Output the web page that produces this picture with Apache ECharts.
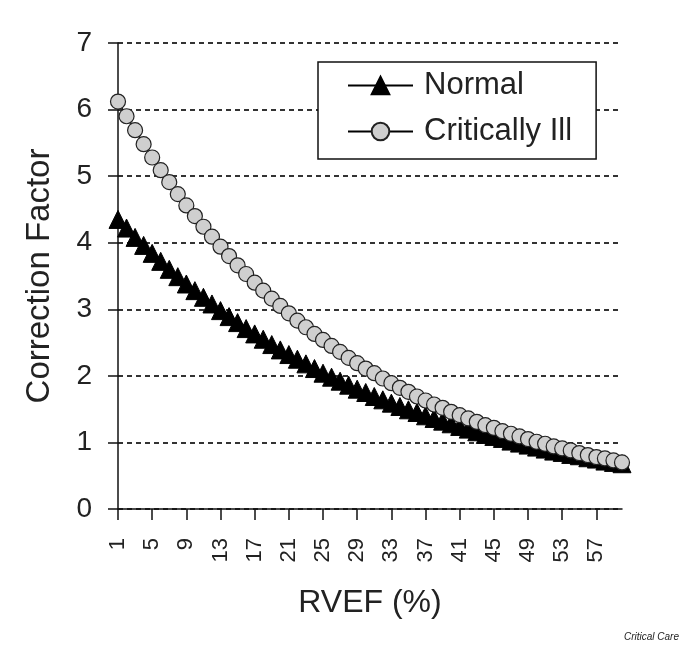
<!DOCTYPE html>
<html>
<head>
<meta charset="utf-8">
<script src="https://cdn.jsdelivr.net/npm/echarts@6/dist/echarts.min.js"></script>
<style>
html,body{margin:0;padding:0;background:#fff;}
#chart{width:685px;height:646px;}
</style>
</head>
<body>
<div id="chart"></div>
<script>
// Categories: RVEF (%) 1..60
const categories = ["1","2","3","4","5","6","7","8","9","10","11","12","13","14","15","16","17","18","19","20","21","22","23","24","25","26","27","28","29","30","31","32","33","34","35","36","37","38","39","40","41","42","43","44","45","46","47","48","49","50","51","52","53","54","55","56","57","58","59","60"];
const normal = [4.35,4.22,4.08,3.96,3.84,3.72,3.60,3.49,3.38,3.28,3.18,3.08,2.98,2.89,2.80,2.71,2.63,2.55,2.47,2.39,2.32,2.25,2.18,2.11,2.04,1.98,1.92,1.86,1.80,1.75,1.69,1.64,1.59,1.54,1.49,1.45,1.40,1.36,1.32,1.28,1.24,1.20,1.16,1.12,1.09,1.06,1.02,0.99,0.96,0.93,0.90,0.87,0.85,0.82,0.80,0.77,0.75,0.72,0.70,0.68];
const criticallyIll = [6.12,5.90,5.69,5.48,5.28,5.09,4.91,4.73,4.56,4.40,4.24,4.09,3.94,3.80,3.66,3.53,3.40,3.28,3.16,3.05,2.94,2.83,2.73,2.63,2.54,2.45,2.36,2.27,2.19,2.11,2.04,1.96,1.89,1.82,1.76,1.69,1.63,1.57,1.52,1.46,1.41,1.36,1.31,1.26,1.22,1.17,1.13,1.09,1.05,1.01,0.98,0.94,0.91,0.88,0.84,0.81,0.78,0.76,0.73,0.70];
const yTicks = [0,1,2,3,4,5,6,7];

const chart = echarts.init(document.getElementById('chart'), null, {renderer:'canvas'});
const font = 'Liberation Sans, Arial, sans-serif';
chart.setOption({
  backgroundColor:'#fff',
  animation:false,
  grid:{left:118,right:63,top:43,bottom:137,containLabel:false},
  legend:{
    orient:'vertical',
    left:318, top:62,
    padding:[8,24,12,29],
    itemGap:15,
    itemWidth:65, itemHeight:22,
    backgroundColor:'#fff',
    borderColor:'#111', borderWidth:1.5,
    textStyle:{fontFamily:font,fontSize:31,lineHeight:31,color:'#222',padding:[0,0,0,6]},
    data:['Normal','Critically Ill']
  },
  xAxis:{
    type:'category',
    data:categories,
    boundaryGap:false,
    name:'RVEF (%)',
    nameLocation:'middle',
    nameGap:78,
    nameTextStyle:{fontFamily:font,fontSize:32,color:'#222'},
    axisLine:{lineStyle:{color:'#111',width:1.5}},
    axisTick:{show:true,interval:3,length:11,lineStyle:{color:'#111',width:1.5}},
    axisLabel:{interval:3,rotate:90,fontFamily:font,fontSize:22,color:'#222',margin:29},
    splitLine:{show:false}
  },
  yAxis:{
    type:'value',
    min:yTicks[0], max:yTicks[yTicks.length-1], interval:1,
    name:'Correction Factor',
    nameLocation:'middle',
    nameGap:62,
    nameTextStyle:{fontFamily:font,fontSize:33,color:'#222'},
    axisLine:{show:true,lineStyle:{color:'#111',width:1.5}},
    axisTick:{show:true,length:10,lineStyle:{color:'#111',width:1.5}},
    axisLabel:{fontFamily:font,fontSize:28,color:'#222',margin:26},
    splitLine:{show:true,lineStyle:{color:'#333',width:2,type:[5,4]}}
  },
  series:[
    {
      name:'Normal',
      type:'line',
      data:normal,
      symbol:'triangle',
      symbolSize:18,
      showAllSymbol:true,
      itemStyle:{color:'#000',borderColor:'#000',borderWidth:1},
      lineStyle:{color:'#000',width:1.5},
      z:2
    },
    {
      name:'Critically Ill',
      type:'line',
      data:criticallyIll,
      symbol:'circle',
      symbolSize:15,
      showAllSymbol:true,
      itemStyle:{color:'#cfcfcf',borderColor:'#222',borderWidth:1.2},
      lineStyle:{color:'#000',width:1.5},
      z:3
    }
  ],
  graphic:[{
    type:'text',
    right:6, bottom:4,
    style:{text:'Critical Care',font:'italic 10px Liberation Sans, Arial, sans-serif',fill:'#222'}
  }]
});
</script>
</body>
</html>
